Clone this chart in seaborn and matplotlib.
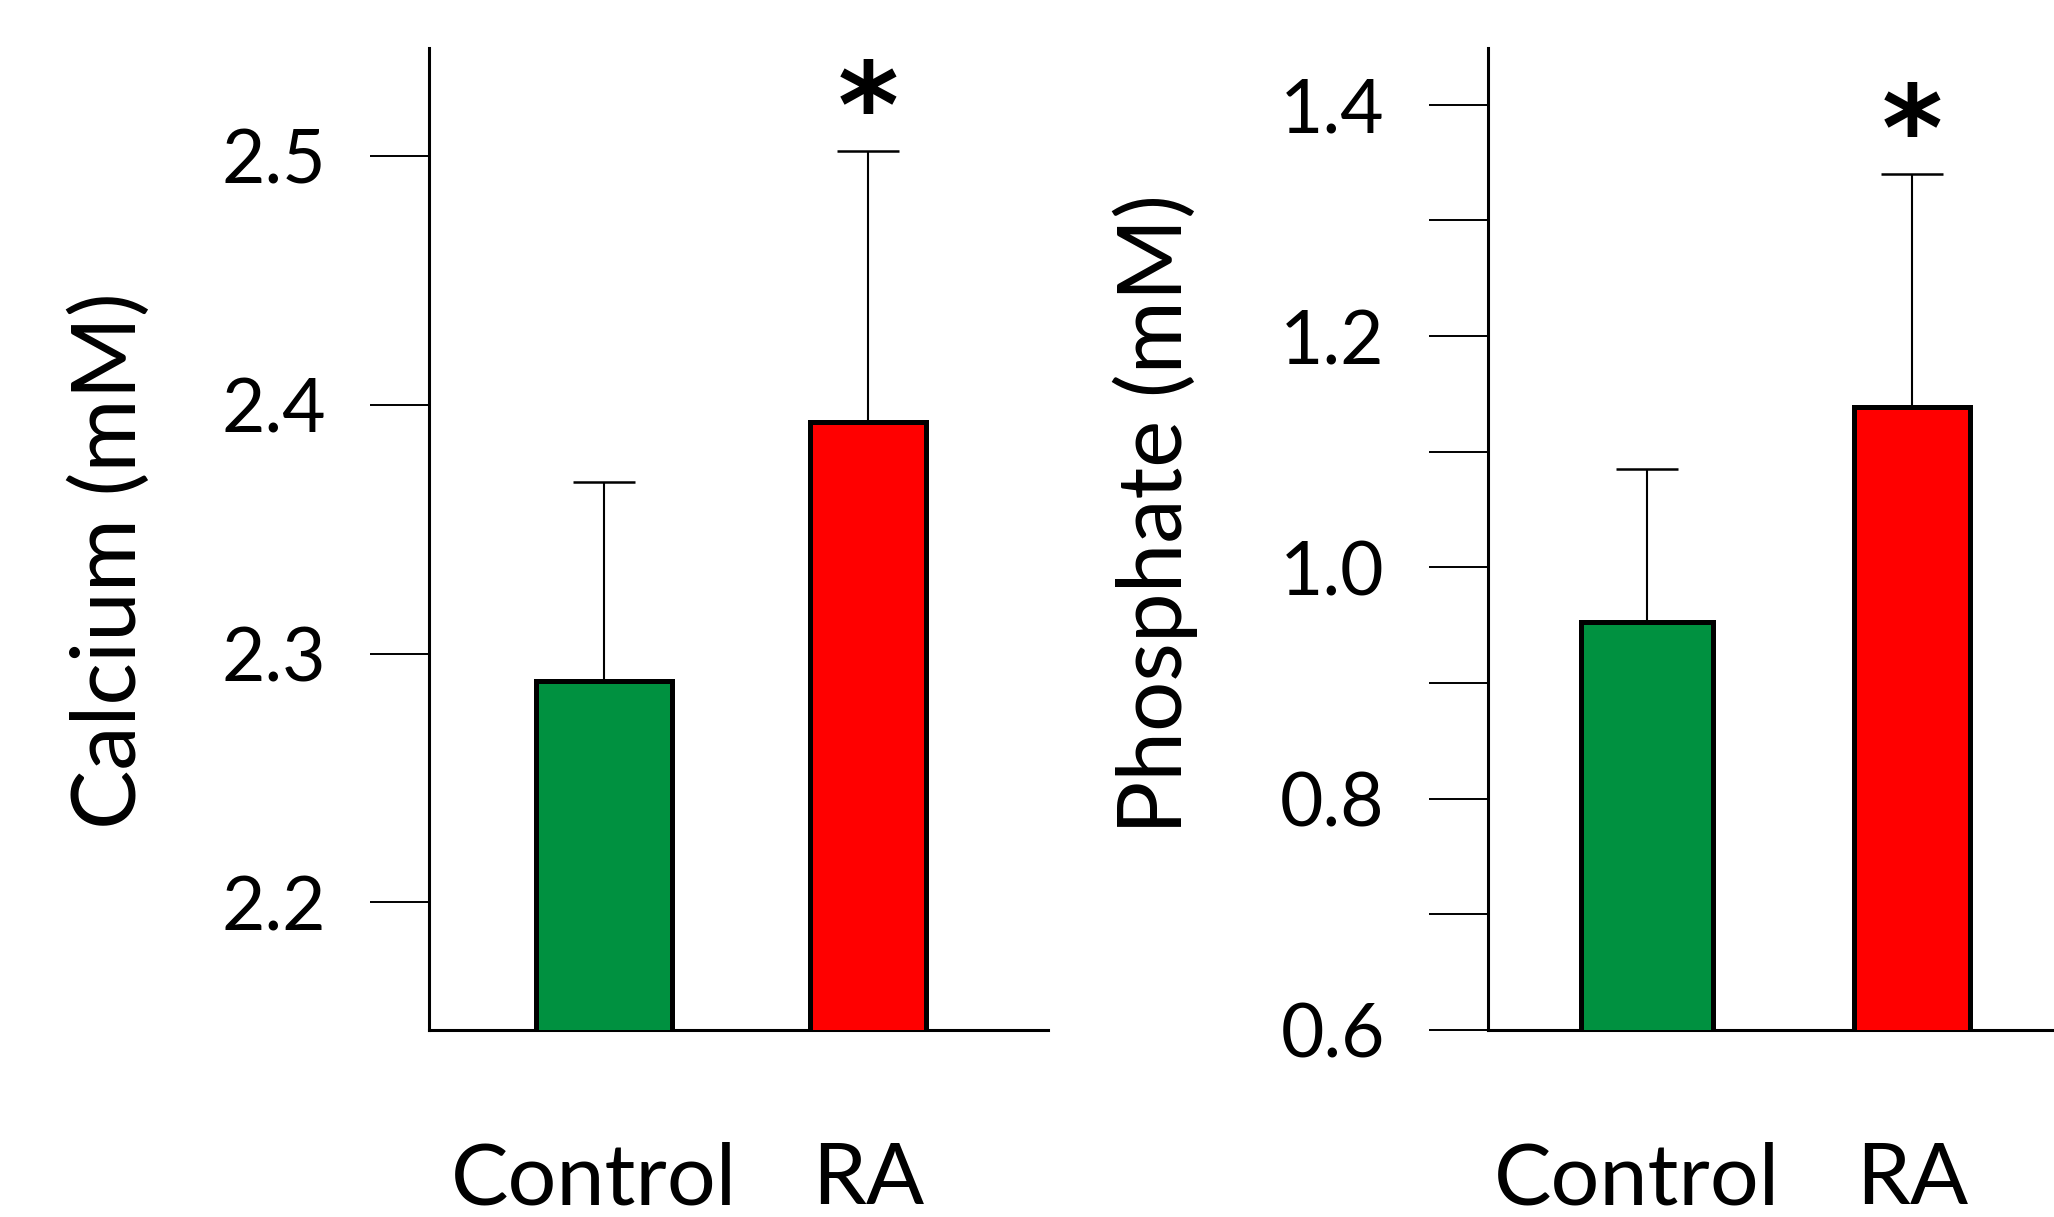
import matplotlib
matplotlib.use("Agg")
import matplotlib.pyplot as plt
import matplotlib.transforms as mtransforms
import seaborn as sns
import pandas as pd

# ---- data ----
categories = ["Control", "RA"]
calcium_mean = [2.289, 2.393]
calcium_err = [0.080, 0.109]
phosphate_mean = [0.953, 1.139]
phosphate_err = [0.132, 0.201]
significant = [False, True]
bar_colors = ["#009140", "#FF0000"]

calcium_ticks = [2.2, 2.3, 2.4, 2.5]
calcium_ticklabels = ["2.2", "2.3", "2.4", "2.5"]
phosphate_ticks = [0.6, 0.8, 1.0, 1.2, 1.4]
phosphate_ticklabels = ["0.6", "0.8", "1.0", "1.2", "1.4"]
phosphate_minor = [0.7, 0.9, 1.1, 1.3]

# ---- style ----
sns.set_style("white")
plt.rcParams["font.family"] = ["Lato", "DejaVu Sans"]
plt.rcParams["text.color"] = "black"
plt.rcParams["axes.labelcolor"] = "black"
plt.rcParams["xtick.color"] = "black"
plt.rcParams["ytick.color"] = "black"

fig = plt.figure(figsize=(20.54, 12.17), dpi=100)
ax1 = fig.add_axes([0.2089, 0.1537, 0.3013, 0.8065])
ax2 = fig.add_axes([0.7244, 0.1537, 0.2756, 0.8065])


def panel(ax, means, errs, ylabel, ylim, xlim, ticks, ticklabels, minor,
          widths, label_xy):
    df = pd.DataFrame({"group": categories, "value": means})
    sns.barplot(data=df, x="group", y="value", hue="group",
                palette=bar_colors, legend=False, ax=ax,
                edgecolor="black", linewidth=3.6, errorbar=None,
                zorder=3, saturation=1)
    for p, w in zip(ax.patches, widths):
        c = p.get_x() + p.get_width() / 2
        p.set_width(w)
        p.set_x(c - w / 2)
    xs = list(range(len(categories)))
    ax.errorbar(xs, means, yerr=[[0] * len(errs), errs], fmt="none",
                ecolor="black", elinewidth=1.5, capsize=22, capthick=1.8,
                zorder=2)
    for x, m, e, s in zip(xs, means, errs, significant):
        if s:
            ax.annotate("*", xy=(x, m + e), xytext=(0, 3),
                        textcoords="offset points", ha="center",
                        va="baseline", fontsize=84, fontweight="bold",
                        color="black", family=["DejaVu Sans"])
    ax.set_ylim(*ylim)
    ax.set_xlim(*xlim)
    ax.set_yticks(ticks)
    ax.set_yticklabels(ticklabels)
    if minor:
        ax.set_yticks(minor, minor=True)
    ax.set_xlabel("")
    ax.set_ylabel(ylabel, fontsize=64, va="center", color="black")
    ax.yaxis.set_label_coords(*label_xy)
    for side in ["top", "right"]:
        ax.spines[side].set_visible(False)
    for side in ["left", "bottom"]:
        ax.spines[side].set_color("black")
        ax.spines[side].set_linewidth(2.2)
    ax.tick_params(axis="y", which="both", direction="out", length=42.5,
                   width=1.4, pad=31.7, labelsize=54, color="black",
                   labelcolor="black", left=True)
    ax.tick_params(axis="x", length=0, pad=80, labelsize=62,
                   labelcolor="black")
    # the "Control" label sits slightly left of its bar in the reference
    lbl = ax.get_xticklabels()[0]
    lbl.set_transform(lbl.get_transform() + mtransforms.ScaledTranslation(
        -7 / 72, 0, fig.dpi_scale_trans))
    ax.grid(False)


panel(ax1, calcium_mean, calcium_err, "Calcium (mM)", (2.1487, 2.5432),
      (-0.66, 1.68), calcium_ticks, calcium_ticklabels, None,
      [0.514, 0.437], (-0.515, 0.478))
panel(ax2, phosphate_mean, phosphate_err, "Phosphate (mM)", (0.6, 1.4487),
      (-0.60, 1.536), phosphate_ticks, phosphate_ticklabels, phosphate_minor,
      [0.50, 0.44], (-0.588, 0.526))

fig.savefig("out.png", dpi=100)
